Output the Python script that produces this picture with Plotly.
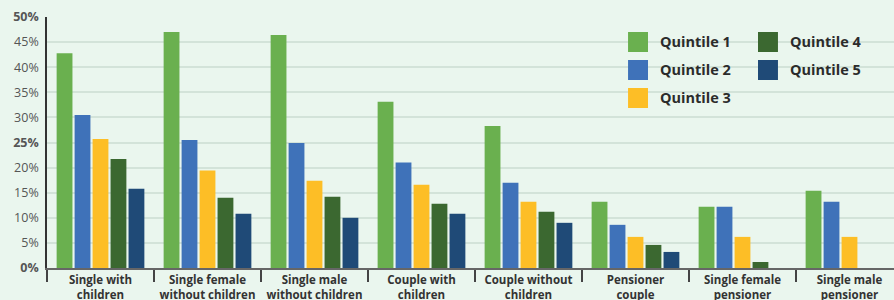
import plotly.graph_objects as go

categories = ["Single with<br>children", "Single female<br>without children", "Single male<br>without children",
              "Couple with<br>children", "Couple without<br>children", "Pensioner<br>couple",
              "Single female<br>pensioner", "Single male<br>pensioner"]
series_names = ["Quintile 1", "Quintile 2", "Quintile 3", "Quintile 4", "Quintile 5"]
q1 = [42.8, 47.0, 46.4, 33.1, 28.3, 13.2, 12.2, 15.4]
q2 = [30.5, 25.5, 24.9, 21.0, 17.0, 8.6, 12.2, 13.2]
q3 = [25.7, 19.4, 17.4, 16.6, 13.2, 6.2, 6.2, 6.2]
q4 = [21.7, 14.0, 14.2, 12.8, 11.2, 4.6, 1.2, 0]
q5 = [15.8, 10.8, 10.0, 10.8, 9.0, 3.2, 0, 0]
series_values = [q1, q2, q3, q4, q5]
colors = ["#6AB04F", "#3F72B9", "#FDBE26", "#3B6830", "#1F4A77"]
y_ticks = [0, 5, 10, 15, 20, 25, 30, 35, 40, 45, 50]
y_ticktext = ["<b>0%</b>", "5%", "10%", "15%", "20%", "<b>25%</b>", "30%", "35%", "40%", "45%", "<b>50%</b>"]

FONT = "Open Sans"
BG = "#EAF6EE"

fig = go.Figure()
for name, vals, col in zip(series_names, series_values, colors):
    fig.add_trace(go.Bar(x=categories, y=vals, name=name,
                         marker=dict(color=col, line=dict(width=0)), showlegend=False))

# manual legend (two columns)
leg_pos = [(0, 0), (0, 1), (0, 2), (1, 0), (1, 1)]
col_x = [0.686, 0.8394]
row_y = [(0.8606, 0.9402), (0.7490, 0.8287), (0.6375, 0.7171)]
for (c, r), name, col in zip(leg_pos, series_names, colors):
    x0 = col_x[c]
    y0, y1 = row_y[r]
    fig.add_shape(type="rect", xref="paper", yref="paper", x0=x0, x1=x0 + 0.0236, y0=y0, y1=y1,
                  fillcolor=col, line=dict(width=0), layer="above")
    fig.add_annotation(xref="paper", yref="paper", x=x0 + 0.0356, y=(y0 + y1) / 2, text="<b>" + name + "</b>",
                       showarrow=False, xanchor="left", yanchor="middle",
                       font=dict(family=FONT, size=14.5, color="#2B2B2B"))

fig.update_layout(
    width=894, height=300,
    margin=dict(l=47, r=0, t=17, b=32),
    paper_bgcolor=BG, plot_bgcolor=BG,
    barmode="group", bargap=0.16, bargroupgap=0.12,
    font=dict(family=FONT, color="#333333"),
    showlegend=False,
)
fig.update_xaxes(
    type="category", automargin=False,
    range=[-0.5, 7.416],
    tickmode="array", tickvals=categories,
    ticktext=["<b>" + c + "</b>" for c in categories],
    tickson="boundaries", ticks="outside", ticklen=12, tickcolor="#444444", tickwidth=1.5,
    ticklabelstandoff=0,
    tickfont=dict(family=FONT, size=11.5, color="#333333"),
    showline=True, linecolor="#666666", linewidth=2,
    showgrid=False, zeroline=False,
)
fig.update_yaxes(
    range=[0, 50], tickvals=y_ticks, ticktext=y_ticktext, automargin=False,
    tickfont=dict(family=FONT, size=12.5, color="#555555"),
    showline=True, linecolor="#333333", linewidth=1.5,
    showgrid=True, gridcolor="#D3E3D9", gridwidth=1.5,
    zeroline=False, ticks="", ticklabelstandoff=4,
)

fig.write_html("out.html", config={"displayModeBar": False},
               post_script="document.body.style.margin='0';document.body.style.overflow='hidden';")
